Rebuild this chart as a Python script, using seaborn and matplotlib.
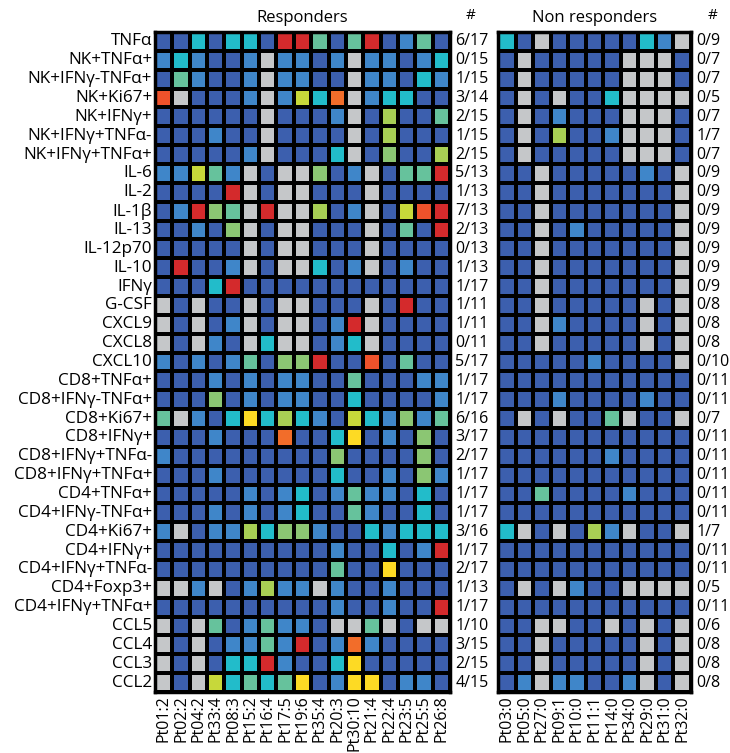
import matplotlib
matplotlib.use("Agg")
import matplotlib.pyplot as plt
import numpy as np
import pandas as pd
import seaborn as sns
from matplotlib.colors import ListedColormap

N = np.nan

markers = [
    "TNFα", "NK+TNFα+", "NK+IFNγ-TNFα+", "NK+Ki67+", "NK+IFNγ+", "NK+IFNγ+TNFα-",
    "NK+IFNγ+TNFα+", "IL-6", "IL-2", "IL-1β", "IL-13", "IL-12p70", "IL-10", "IFNγ",
    "G-CSF", "CXCL9", "CXCL8", "CXCL10", "CD8+TNFα+", "CD8+IFNγ-TNFα+", "CD8+Ki67+",
    "CD8+IFNγ+", "CD8+IFNγ+TNFα-", "CD8+IFNγ+TNFα+", "CD4+TNFα+", "CD4+IFNγ-TNFα+",
    "CD4+Ki67+", "CD4+IFNγ+", "CD4+IFNγ+TNFα-", "CD4+Foxp3+", "CD4+IFNγ+TNFα+",
    "CCL5", "CCL4", "CCL3", "CCL2",
]

responders = ["Pt01:2", "Pt02:2", "Pt04:2", "Pt33:4", "Pt08:3", "Pt15:2", "Pt16:4",
              "Pt17:5", "Pt19:6", "Pt35:4", "Pt20:3", "Pt30:10", "Pt21:4", "Pt22:4",
              "Pt23:5", "Pt25:5", "Pt26:8"]
non_responders = ["Pt03:0", "Pt05:0", "Pt27:0", "Pt09:1", "Pt10:0", "Pt11:1", "Pt14:0",
                  "Pt34:0", "Pt29:0", "Pt31:0", "Pt32:0"]

# change level per cell (0 = no change ... 10 = strongest), NaN = not measured
resp_levels = [
    [0, 0, 2, 0, 2, 2, 0, 10, 10, 3, 0, 3, 10, 0, 1, 3, 0],
    [1, 2, 1, 0, 0, 1, N, 1, 1, 0, 1, N, 1, 1, 0, 1, 2],
    [0, 3, 1, 0, 0, 1, N, 1, 1, 0, 0, N, 1, 1, 0, 2, 1],
    [9, N, 0, 0, 0, 1, N, 1, 6, 2, 8, N, 1, 2, 2, 0, 0],
    [0, 0, 0, 0, 0, 0, N, 0, 0, 0, 1, N, 0, 5, 0, 0, 3],
    [0, 0, 0, 1, 0, 0, N, 0, 0, 0, 0, N, 0, 5, 0, 0, 0],
    [0, 0, 0, 0, 0, 1, N, 0, 0, 0, 2, N, 0, 4, 0, 0, 5],
    [1, 1, 6, 3, 1, N, 0, N, N, 4, 0, 1, N, 0, 3, 3, 10],
    [0, 0, 0, 0, 10, N, 0, N, N, 0, 0, 0, N, 0, 0, 0, 0],
    [0, 1, 10, 4, 3, N, 10, N, N, 5, 0, 1, N, 0, 6, 9, 10],
    [0, 0, 1, 0, 4, N, 0, N, N, 0, 0, 0, N, 0, 3, 0, 10],
    [0, 0, 0, 0, 0, N, 0, N, N, 0, 0, 0, N, 0, 0, 0, 0],
    [0, 10, 0, 0, 1, N, 0, N, N, 2, 0, 1, N, 0, 1, 0, 0],
    [0, 0, 0, 2, 10, 0, 0, 0, 0, 0, 0, 0, 0, 0, 0, 0, 0],
    [N, 0, N, 0, 0, N, 0, N, N, 0, 0, 0, N, 0, 10, 0, 0],
    [N, 0, N, 0, 1, N, 0, N, N, 0, 1, 10, N, 0, 0, 0, 0],
    [N, 0, N, 1, 0, N, 2, N, N, 0, 1, 2, N, 0, 0, 0, 0],
    [1, 0, 1, 0, 1, 3, 0, 4, 4, 10, 0, 0, 9, 0, 3, 0, 0],
    [0, 0, 0, 1, 0, 1, 0, 1, 1, 0, 0, 3, 0, 0, 0, 1, 1],
    [0, 0, 0, 4, 0, 1, 0, 1, 1, 0, 0, 2, 0, 0, 0, 0, 1],
    [3, N, 1, 0, 2, 7, 2, 5, 2, 1, 0, 6, 2, 1, 4, 1, 3],
    [0, 0, 0, 1, 0, 0, 0, 8, 0, 0, 2, 7, 0, 1, 0, 4, 0],
    [1, 0, 0, 0, 0, 0, 0, 0, 0, 0, 4, 0, 0, 0, 0, 4, 0],
    [0, 0, 0, 1, 0, 0, 0, 0, 0, 0, 2, 0, 0, 1, 0, 4, 1],
    [0, 0, 0, 0, 0, 1, 0, 1, 2, 0, 1, 3, 1, 1, 0, 2, 0],
    [0, 0, 0, 1, 0, 1, 0, 1, 2, 0, 0, 3, 1, 0, 0, 2, 0],
    [1, N, 0, 1, 1, 5, 2, 4, 4, 1, 0, 0, 2, 1, 2, 2, 2],
    [0, 0, 0, 0, 0, 0, 0, 0, 0, 0, 1, 0, 0, 2, 0, 1, 10],
    [0, 0, 0, 0, 0, 0, 0, 0, 0, 0, 3, 0, 0, 7, 0, 0, 0],
    [N, N, 1, N, 0, 1, 5, 1, 1, N, 1, 0, 0, 1, 0, 0, 0],
    [0, 0, 0, 0, 0, 0, 0, 0, 0, 0, 1, 0, 0, 1, 0, 0, 10],
    [N, 0, N, 3, 0, 1, 3, 1, 1, 0, N, N, 3, N, 0, N, N],
    [N, 0, N, 0, 1, 1, 3, 1, 10, 0, 1, 8, 1, 0, 0, 0, 0],
    [N, 0, N, 0, 2, 2, 10, 1, 0, 0, 2, 7, 0, 0, 0, 0, 0],
    [N, 0, N, 6, 2, 3, 2, 3, 7, 0, 1, 7, 7, 0, 1, 1, 0],
]

nonresp_levels = [
    [2, 0, N, 0, 0, 0, 0, 0, 2, 1, N],
    [0, N, 0, 0, 0, 0, 0, N, N, N, 0],
    [0, N, 0, 0, 0, 0, 0, N, N, N, 0],
    [0, N, 0, N, 0, 0, 2, N, N, N, N],
    [0, N, 0, 1, 0, 0, 0, N, N, N, 0],
    [0, N, 0, 5, 0, 0, 1, N, N, N, 0],
    [0, N, 0, 0, 0, 0, 0, N, N, N, 0],
    [0, 0, N, 0, 0, 0, 0, 0, 1, 0, N],
    [0, 0, N, 0, 0, 0, 0, 0, 0, 0, N],
    [0, 0, N, 0, 0, 0, 0, 0, 0, 0, N],
    [0, 0, N, 0, 1, 0, 0, 0, 0, 0, N],
    [0, 0, N, 0, 0, 0, 0, 0, 0, 0, N],
    [0, 0, N, 0, 0, 0, 0, 0, 0, 0, N],
    [0, 0, N, 0, 0, 0, 0, 0, 0, 0, N],
    [0, 0, N, 0, 0, 0, 0, 0, N, 0, N],
    [0, 0, N, 1, 0, 0, 0, 0, N, 0, N],
    [0, 0, N, 0, 0, 0, 0, 0, N, 0, N],
    [0, 0, 0, 0, 0, 1, 0, 0, 0, 0, N],
    [0, 0, 0, 0, 0, 0, 0, 0, 0, 0, 0],
    [0, 0, 0, 1, 0, 0, 0, 0, 1, 0, 0],
    [0, N, 0, N, 0, 0, 3, N, 0, 0, N],
    [0, 0, 0, 0, 0, 0, 0, 0, 0, 0, 0],
    [0, 0, 0, 0, 0, 0, 1, 0, 0, 0, 0],
    [0, 0, 0, 0, 0, 0, 0, 0, 0, 0, 0],
    [0, 0, 3, 0, 0, 0, 0, 1, 0, 0, 0],
    [0, 0, 0, 0, 0, 0, 0, 0, 0, 0, 0],
    [2, N, 0, N, 0, 5, 1, N, 0, 0, N],
    [0, 0, 0, 0, 0, 0, 0, 0, 0, 0, 0],
    [0, 0, 0, 0, 0, 0, 0, 0, 0, 0, 0],
    [0, N, 0, N, 1, 0, 0, N, N, N, N],
    [0, 0, 0, 0, 0, 0, 0, 0, 0, 0, 0],
    [0, 0, N, N, 0, 0, N, 0, N, 0, N],
    [0, 0, N, 0, 0, 0, 0, 0, N, 0, N],
    [0, 0, N, 0, 0, 0, 0, 0, N, 0, N],
    [0, 1, N, 1, 1, 0, 0, 1, N, 0, N],
]

resp_counts = ["6/17", "0/15", "1/15", "3/14", "2/15", "1/15", "2/15", "5/13", "1/13",
               "7/13", "2/13", "0/13", "1/13", "1/17", "1/11", "1/11", "0/11", "5/17",
               "1/17", "1/17", "6/16", "3/17", "2/17", "1/17", "1/17", "1/17", "3/16",
               "1/17", "2/17", "1/13", "1/17", "1/10", "3/15", "2/15", "4/15"]
nonresp_counts = ["0/9", "0/7", "0/7", "0/5", "0/7", "1/7", "0/7", "0/9", "0/9", "0/9",
                  "0/9", "0/9", "0/9", "0/9", "0/8", "0/8", "0/8", "0/10", "0/11", "0/11",
                  "0/7", "0/11", "0/11", "0/11", "0/11", "0/11", "1/7", "0/11", "0/11",
                  "0/5", "0/11", "0/6", "0/8", "0/8", "0/8"]

# gray for missing, then the jet-like level colours
palette = ["#c5c7c9", "#3c5fae", "#3f86c9", "#22bcca", "#66c29c", "#8bc673", "#a8cf54",
           "#c7d83a", "#fdda24", "#f26d2a", "#ef522b", "#d42a2c"]
cmap = ListedColormap(palette)

sns.set_style("white")
plt.rcParams["font.family"] = ["Open Sans", "DejaVu Sans"]
plt.rcParams["text.color"] = "black"
plt.rcParams["xtick.color"] = "black"
plt.rcParams["ytick.color"] = "black"

W, H = 730, 753
fig = plt.figure(figsize=(W / 100, H / 100), dpi=100)
top, bottom = 32, 692
ax1 = fig.add_axes([155 / W, 1 - bottom / H, 295 / W, (bottom - top) / H])
ax2 = fig.add_axes([498 / W, 1 - bottom / H, 193 / W, (bottom - top) / H])

panels = [
    (ax1, resp_levels, responders, resp_counts, "Responders", True),
    (ax2, nonresp_levels, non_responders, nonresp_counts, "Non responders", False),
]
for ax, levels, cols, counts, title, show_rows in panels:
    df = pd.DataFrame(levels, index=markers, columns=cols)
    codes = df.fillna(-1) + 1
    sns.heatmap(codes, ax=ax, cmap=cmap, vmin=-0.5, vmax=len(palette) - 0.5, cbar=False,
                linewidths=2.6, linecolor="black", square=False,
                yticklabels=markers if show_rows else False, xticklabels=cols)
    for s in ax.spines.values():
        s.set_visible(True)
        s.set_linewidth(2.5)
        s.set_color("black")
    ax.tick_params(length=0, pad=2)
    ax.set_xticklabels(cols, rotation=90, fontsize=11.5)
    if show_rows:
        ax.set_yticklabels(markers, rotation=0, fontsize=12.3)
    ax.set_xlabel("")
    ax.set_ylabel("")
    ax.set_title(title, fontsize=12, pad=7)
    ncol = len(cols)
    for i, c in enumerate(counts):
        ax.text(ncol + 0.3, i + 0.5, c, ha="left", va="center", fontsize=11.5, clip_on=False)
    ax.text(ncol + 1.2, -0.9, "#", ha="center", va="center", fontsize=11, clip_on=False)

fig.savefig("out.png", dpi=100)
